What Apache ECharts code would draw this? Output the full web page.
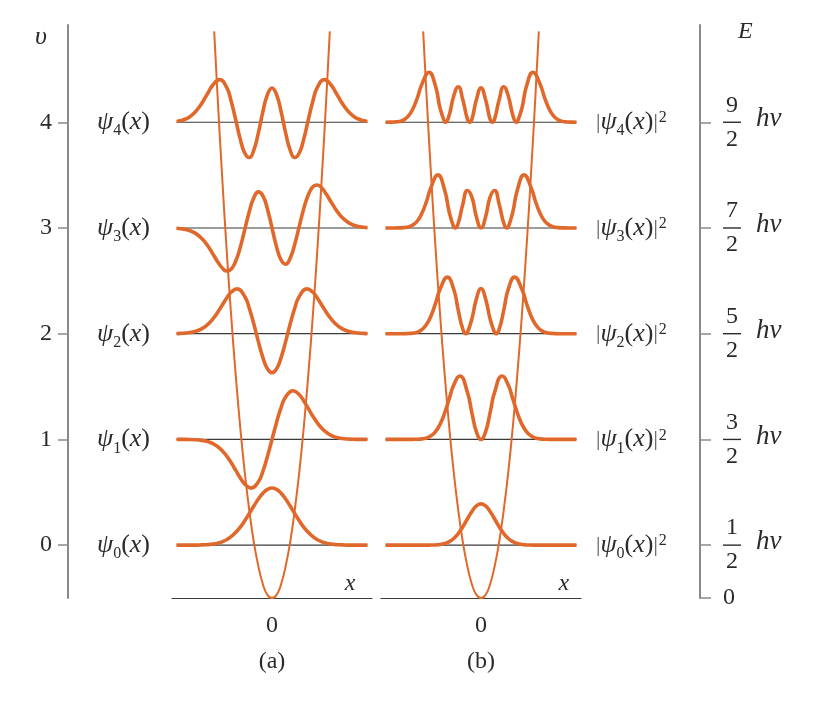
<!DOCTYPE html>
<html><head><meta charset="utf-8">
<script src="https://cdn.jsdelivr.net/npm/echarts@6/dist/echarts.min.js"></script>
<style>html,body{margin:0;padding:0;background:#fff}#c{width:816px;height:705px}</style>
</head><body><div id="c"></div>
<script>
// ---- data ----
const levels = [0.5, 1.5, 2.5, 3.5, 4.5];          // energy of each level (units of h nu)
const vLabels = ['0', '1', '2', '3', '4'];
const eNumerators = ['1', '3', '5', '7', '9'];
const xs = [-5.25,-5,-4.75,-4.5,-4.25,-4,-3.75,-3.5,-3.25,-3,-2.75,-2.5,-2.25,-2,-1.75,-1.5,-1.25,-1,-0.75,-0.5,-0.25,0,0.25,0.5,0.75,1,1.25,1.5,1.75,2,2.25,2.5,2.75,3,3.25,3.5,3.75,4,4.25,4.5,4.75,5,5.25];
// null = no reading at that x (the peak reading below is used instead)
const psi0 = [0,0,0,0,0,0.001,0.003,0.005,0.010,0.018,0.031,0.051,0.080,0.119,0.169,0.230,0.299,0.370,0.436,0.491,0.527,0.540,0.527,0.491,0.436,0.370,0.299,0.230,0.169,0.119,0.080,0.051,0.031,0.018,0.010,0.005,0.003,0.001,0,0,0,0,0];
const psi1 = [0,0,0,-0.001,-0.003,-0.006,-0.012,-0.022,-0.039,-0.066,-0.104,-0.155,-0.219,-0.291,-0.363,-0.423,null,null,-0.401,-0.301,-0.161,0,0.161,0.301,0.401,null,null,0.423,0.363,0.291,0.219,0.155,0.104,0.066,0.039,0.022,0.012,0.006,0.003,0.001,0,0,0];
const psi2 = [0.001,0.003,0.006,0.011,0.020,0.035,0.059,0.093,0.140,0.199,0.267,0.335,0.392,null,null,0.352,0.241,0.091,-0.075,-0.226,-0.332,-0.370,-0.332,-0.226,-0.075,0.091,0.241,0.352,null,null,0.392,0.335,0.267,0.199,0.140,0.093,0.059,0.035,0.020,0.011,0.006,0.003,0.001];
const psi3 = [-0.003,-0.007,-0.014,-0.026,-0.046,-0.077,-0.120,-0.178,-0.246,-0.316,-0.375,-0.406,-0.390,-0.315,-0.185,-0.017,0.154,0.286,0.342,0.303,0.178,0,-0.178,-0.303,-0.342,-0.286,-0.154,0.017,0.185,0.315,0.390,0.406,0.375,0.316,0.246,0.178,0.120,0.077,0.046,0.026,0.014,0.007,0.003];
const psi4 = [0.008,0.017,0.031,0.055,0.092,0.144,0.210,0.284,0.353,null,null,0.332,0.202,0.026,-0.156,-0.291,-0.334,-0.264,-0.100,0.100,0.262,0.324,0.262,0.100,-0.100,-0.264,-0.334,-0.291,-0.156,0.026,0.202,0.332,null,null,0.353,0.284,0.210,0.144,0.092,0.055,0.031,0.017,0.008];
const prob0 = [0,0,0,0,0,0,0,0,0,0,0.001,0.002,0.006,0.015,0.033,0.063,0.110,0.174,0.247,0.319,0.371,0.390,0.371,0.319,0.247,0.174,0.110,0.063,0.033,0.015,0.006,0.002,0.001,0,0,0,0,0,0,0,0,0,0];
const prob1 = [0,0,0,0,0,0,0,0.002,0.005,0.014,0.034,0.074,0.144,0.250,0.383,0.514,null,null,0.447,0.251,0.072,0,0.072,0.251,0.447,null,null,0.514,0.383,0.250,0.144,0.074,0.034,0.014,0.005,0.002,0,0,0,0,0,0,0];
const prob2 = [0,0,0,0,0,0.002,0.005,0.015,0.039,0.086,0.169,0.288,0.420,null,null,0.420,0.221,0.043,0.009,0.141,0.331,0.428,0.331,0.141,0.009,0.043,0.221,0.420,null,null,0.420,0.288,0.169,0.086,0.039,0.015,0.005,0.002,0,0,0,0,0];
const prob3 = [0,0,0,0.001,0.003,0.010,0.028,0.066,0.139,0.250,0.384,null,null,0.359,0.151,0.009,0.047,0.225,0.355,0.292,0.103,0,0.103,0.292,0.355,0.225,0.047,0.009,0.151,0.359,null,null,0.384,0.250,0.139,0.066,0.028,0.010,0.003,0.001,0,0,0];
const prob4 = [0,0.001,0.003,0.008,0.023,0.058,0.125,0.231,0.360,null,null,0.340,0.133,0.004,0.067,0.249,0.336,0.213,0.032,0.028,0.215,0.325,0.215,0.028,0.032,0.213,0.336,0.249,0.067,0.004,0.133,0.340,null,null,0.360,0.231,0.125,0.058,0.023,0.008,0.003,0.001,0];
// extra readings: peak tops and zero touches, as [x, value]
const psiExtra = [[], [[-1.15,-0.461],[1.15,0.461]], [[-1.93,0.424],[1.93,0.424]], [], [[-2.88,0.403],[2.88,0.403]]];
const probExtra = [[], [[-1.16,0.600],[1.16,0.600]], [[-1.85,0.535],[-0.83,0],[0.83,0],[1.85,0.535]],
  [[-2.37,0.502],[-1.42,0],[1.42,0],[2.37,0.502]], [[-2.86,0.472],[-1.95,0],[-0.62,0],[0.62,0],[1.95,0],[2.86,0.472]]];
const wellX = [-3.18,-3,-2.75,-2.5,-2.25,-2,-1.75,-1.5,-1.25,-1,-0.75,-0.5,-0.25,0,0.25,0.5,0.75,1,1.25,1.5,1.75,2,2.25,2.5,2.75,3,3.18];
const wellE = [5.36,4.77,4.01,3.31,2.68,2.12,1.62,1.19,0.83,0.53,0.30,0.13,0.03,0,0.03,0.13,0.30,0.53,0.83,1.19,1.62,2.12,2.68,3.31,4.01,4.77,5.36];
const psiSeries = [psi0, psi1, psi2, psi3, psi4];
const probSeries = [prob0, prob1, prob2, prob3, prob4];

// ---- styling ----
const ORANGE = '#e0682b', TXT = '#2b2b2b', AXIS = '#8a8a8a', LINE = '#3a3a3a';
const F = '"Liberation Serif", "DejaVu Serif", serif';
const RICH = {
  p: {fontFamily: F, fontStyle: 'italic', fontSize: 26, color: TXT, lineHeight: 34},
  t: {fontFamily: F, fontSize: 26, color: TXT, lineHeight: 34},
  s: {fontFamily: F, fontSize: 16, color: TXT, lineHeight: 20, verticalAlign: 'bottom'},
  u: {fontFamily: F, fontSize: 16, color: TXT, lineHeight: 20, verticalAlign: 'top', padding: [5, 0, 0, 1]},
  v: {fontFamily: F, fontSize: 22, color: '#555', lineHeight: 34}
};
const ERICH = {
  n: {fontFamily: F, fontSize: 24, color: TXT, lineHeight: 26, padding: [0, 0, 0, 3]},
  d: {fontFamily: F, fontSize: 24, color: TXT, lineHeight: 26, padding: [0, 0, 0, 3]},
  b: {width: 18, height: 1.4, lineHeight: 8, backgroundColor: TXT, fontSize: 2},
  h: {fontFamily: F, fontStyle: 'italic', fontSize: 27, color: TXT, lineHeight: 8, padding: [0, 0, 6, 15]},
  z: {fontFamily: F, fontSize: 24, color: TXT}
};

function curve(ys, level, extra) {
  const pts = [];
  xs.forEach((x, i) => { if (ys[i] !== null) pts.push([x, level + ys[i]]); });
  extra.forEach(p => pts.push([p[0], level + p[1]]));
  pts.sort((a, b) => a[0] - b[0]);
  return pts;
}

const series = [];
[0, 1].forEach(g => {
  levels.forEach(L => series.push({
    type: 'line', xAxisIndex: g * 2, yAxisIndex: g, silent: true, symbol: 'none', z: 1,
    data: [[xs[0], L], [xs[xs.length - 1], L]], lineStyle: {color: LINE, width: 1.2}
  }));
  series.push({
    type: 'line', xAxisIndex: g * 2, yAxisIndex: g, silent: true, symbol: 'none', z: 3, smooth: true,
    data: wellX.map((x, i) => [x, wellE[i]]), lineStyle: {color: ORANGE, width: 2}
  });
});
psiSeries.forEach((ys, n) => series.push({
  type: 'line', xAxisIndex: 0, yAxisIndex: 0, silent: true, symbol: 'none', z: 2, smooth: true,
  data: curve(ys, levels[n], psiExtra[n]), lineStyle: {color: ORANGE, width: 3.6}
}));
probSeries.forEach((ys, n) => series.push({
  type: 'line', xAxisIndex: 2, yAxisIndex: 1, silent: true, symbol: 'none', z: 2, smooth: true,
  data: curve(ys, levels[n], probExtra[n]), lineStyle: {color: ORANGE, width: 3.6}
}));

const baseX = (grid, name) => ({
  gridIndex: grid, type: 'value', min: -5.5, max: 5.5,
  axisLine: {show: true, onZero: false, lineStyle: {color: LINE, width: 1.2}},
  axisTick: {show: false}, splitLine: {show: false},
  axisLabel: {customValues: [0], formatter: () => '0', margin: 16, fontFamily: F, fontSize: 24, color: TXT},
  name: name, nameLocation: 'middle', nameGap: 52,
  nameTextStyle: {fontFamily: F, fontSize: 24, color: TXT}
});
const xLab = (grid, at) => ({
  gridIndex: grid, type: 'value', min: -5.5, max: 5.5, position: 'bottom',
  axisLine: {show: false, onZero: false}, axisTick: {show: false}, splitLine: {show: false},
  axisLabel: {customValues: [at], formatter: () => 'x', inside: true, margin: 2,
    fontFamily: F, fontStyle: 'italic', fontSize: 24, color: TXT}
});

const option = {
  animation: false,
  backgroundColor: '#fff',
  grid: [
    {left: 172, width: 200, top: 25, bottom: 107},
    {left: 381, width: 200, top: 25, bottom: 107},
    {left: 68, width: 10, top: 25, bottom: 107},
    {left: 690, width: 10, top: 25, bottom: 107}
  ],
  xAxis: [
    baseX(0, '(a)'), xLab(0, 4.3),
    baseX(1, '(b)'), xLab(1, 4.55),
    {gridIndex: 2, type: 'value', min: 0, max: 1, show: false},
    {gridIndex: 3, type: 'value', min: 0, max: 1, show: false}
  ],
  yAxis: [
    {gridIndex: 0, type: 'value', min: 0, max: 5.42, axisLine: {show: false, onZero: false},
     axisTick: {show: false}, splitLine: {show: false},
     axisLabel: {customValues: levels, margin: 22, rich: RICH,
       formatter: v => { const i = levels.indexOf(v); return '{p|ψ}{s|' + vLabels[i] + '}{t|(}{p|x}{t|)}'; }}},
    {gridIndex: 1, type: 'value', min: 0, max: 5.42, position: 'right', axisLine: {show: false, onZero: false},
     axisTick: {show: false}, splitLine: {show: false},
     axisLabel: {customValues: levels, margin: 15, rich: RICH,
       formatter: v => { const i = levels.indexOf(v); return '{v||}{p|ψ}{s|' + vLabels[i] + '}{t|(}{p|x}{t|)}{v||}{u|2}'; }}},
    {gridIndex: 2, type: 'value', min: 0, max: 5.42, position: 'left',
     axisLine: {show: true, onZero: false, lineStyle: {color: AXIS, width: 2}},
     axisTick: {show: true, customValues: levels, length: 10, lineStyle: {color: AXIS, width: 1.5}},
     splitLine: {show: false},
     axisLabel: {customValues: levels, margin: 16, fontFamily: F, fontSize: 24, color: TXT,
       formatter: v => vLabels[levels.indexOf(v)]}},
    {gridIndex: 3, type: 'value', min: 0, max: 5.42, position: 'right',
     axisLine: {show: true, onZero: false, lineStyle: {color: AXIS, width: 2}},
     axisTick: {show: true, customValues: [0].concat(levels), length: 11, lineStyle: {color: AXIS, width: 1.5}},
     splitLine: {show: false},
     axisLabel: {customValues: [0].concat(levels), margin: 23, rich: ERICH, align: 'left',
       formatter: v => {
         if (v === 0) return '{z|0}';
         const i = levels.indexOf(v);
         return '{n|' + eNumerators[i] + '}\n{b| }{h|hν}\n{d|2}';
       }}}
  ],
  graphic: [
    {type: 'text', left: 35, top: 24, style: {text: 'υ', fill: TXT, font: 'italic 26px "Liberation Serif"'}},
    {type: 'text', left: 738, top: 20, style: {text: 'E', fill: TXT, font: 'italic 24px "Liberation Serif"'}}
  ],
  series: series
};
const chart = echarts.init(document.getElementById('c'), null, {renderer: 'canvas'});
chart.setOption(option);
</script>
</body></html>
